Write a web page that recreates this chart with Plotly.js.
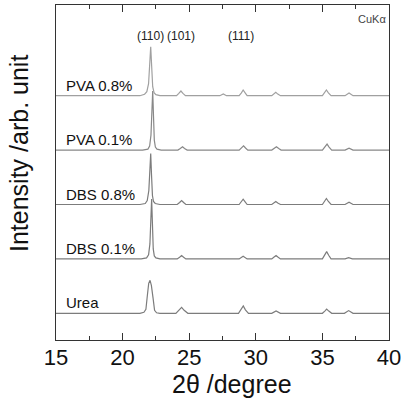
<!DOCTYPE html>
<html>
<head>
<meta charset="utf-8">
<script src="https://cdn.plot.ly/plotly-3.0.1.min.js"></script>
<style>html,body{margin:0;padding:0;background:#fff;}#chart{width:403px;height:400px;}</style>
</head>
<body>
<div id="chart"></div>
<script>
// Sample names (bottom to top)
const sampleNames = ['Urea', 'DBS 0.1%', 'DBS 0.8%', 'PVA 0.1%', 'PVA 0.8%'];

// 2θ (degree) and intensity (arb. unit, above each pattern's own baseline)
const ureaX = [15, 21.3, 21.6, 21.75, 21.86, 21.96, 22.06, 22.16, 22.29, 22.4, 22.55, 22.8, 24.0, 24.22, 24.43, 24.62, 24.9, 28.7, 28.9, 29.06, 29.22, 29.45, 31.2, 31.52, 31.85, 35.0, 35.18, 35.32, 35.48, 35.7, 36.65, 36.97, 37.3, 40];
const ureaY = [0, 0, 1, 4, 18, 30, 33, 28, 15, 3, 0.5, 0, 0, 3, 6, 3, 0, 0, 3.5, 7.3, 3.5, 0, 0, 2.3, 0, 0, 2.2, 4.3, 2.2, 0, 0, 2.7, 0, 0];

const dbs01X = [15, 21.4, 21.8, 21.95, 22.05, 22.12, 22.18, 22.24, 22.3, 22.38, 22.5, 22.8, 24.1, 24.28, 24.43, 24.58, 24.75, 28.75, 29.05, 29.35, 31.2, 31.35, 31.52, 31.68, 31.85, 35.0, 35.17, 35.32, 35.47, 35.65, 36.7, 36.97, 37.25, 40];
const dbs01Y = [0, 0, 1, 4, 15, 40, 60, 35, 10, 3, 1, 0, 0, 1.6, 3.3, 1.6, 0, 0, 2.7, 0, 0, 1.6, 3.3, 1.6, 0, 0, 3.6, 7.3, 3.6, 0, 0, 1.3, 0, 0];

const dbs08X = [15, 21.3, 21.7, 21.85, 21.97, 22.05, 22.11, 22.17, 22.24, 22.32, 22.45, 22.8, 24.1, 24.28, 24.43, 24.58, 24.75, 28.75, 28.92, 29.05, 29.2, 29.35, 31.2, 31.35, 31.5, 31.65, 31.85, 35.0, 35.17, 35.3, 35.45, 35.65, 36.7, 37.0, 37.3, 40];
const dbs08Y = [0, 0, 1, 4, 14, 35, 51, 30, 9, 3, 1, 0, 0, 2, 4, 2, 0, 0, 2.6, 5.3, 2.6, 0, 0, 1.5, 3, 1.5, 0, 0, 3, 6, 3, 0, 0, 2.3, 0, 0];

const pva01X = [15, 21.5, 21.9, 22.03, 22.13, 22.2, 22.26, 22.32, 22.38, 22.46, 22.58, 22.9, 24.15, 24.33, 24.5, 24.65, 24.85, 28.75, 28.93, 29.08, 29.23, 29.4, 31.2, 31.38, 31.55, 31.72, 31.9, 35.0, 35.2, 35.35, 35.5, 35.7, 36.7, 37.0, 37.3, 40];
const pva01Y = [0, 0, 1, 4, 15, 40, 59, 34, 10, 3, 1, 0, 0, 1.6, 3.3, 1.6, 0, 0, 2.1, 4.3, 2.1, 0, 0, 1.6, 3.3, 1.6, 0, 0, 3, 6, 3, 0, 0, 2, 0, 0];

const pva08X = [15, 21.3, 21.65, 21.82, 21.95, 22.04, 22.11, 22.18, 22.26, 22.36, 22.5, 22.8, 24.05, 24.22, 24.38, 24.53, 24.72, 27.3, 27.56, 27.8, 28.75, 28.92, 29.05, 29.2, 29.35, 31.2, 31.35, 31.5, 31.65, 31.85, 35.0, 35.17, 35.3, 35.45, 35.65, 36.7, 37.0, 37.3, 40];
const pva08Y = [0, 0, 1.5, 4, 12, 33, 49, 30, 9, 3, 1, 0, 0, 2.3, 4.7, 2.3, 0, 0, 1.7, 0, 0, 2.8, 5.7, 2.8, 0, 0, 1.6, 3.3, 1.6, 0, 0, 2.8, 5.7, 2.8, 0, 0, 2.7, 0, 0];

// Peak index labels
const hklLabels = ['(110)', '(101)', '(111)'];
const hklPos = [22.1, 24.4, 28.9];

const seriesX = [ureaX, dbs01X, dbs08X, pva01X, pva08X];
const seriesY = [ureaY, dbs01Y, dbs08Y, pva01Y, pva08Y];

// stacking (layout)
const baseOffset = 26.7, step = 54.4;
const lineColors = ['#7c7c7c', '#7c7c7c', '#7c7c7c', '#888888', '#a0a0a0'];

const traces = seriesX.map((xs, i) => ({
  x: xs,
  y: seriesY[i].map(v => v + baseOffset + i * step),
  type: 'scatter', mode: 'lines',
  line: {color: lineColors[i], width: 1.2},
  hoverinfo: 'skip', showlegend: false
}));

const fam = 'Liberation Sans, Arial, sans-serif';
const annotations = sampleNames.map((n, i) => ({
  x: 15.6, y: baseOffset + i * step + 10.5, xref: 'x', yref: 'y',
  text: n, showarrow: false, xanchor: 'left', yanchor: 'middle',
  font: {family: fam, size: 15, color: '#111'}
}));
hklLabels.forEach((t, i) => annotations.push({
  x: hklPos[i], y: 304, xref: 'x', yref: 'y', text: t, showarrow: false,
  xanchor: 'center', yanchor: 'middle', font: {family: fam, size: 12, color: '#222'}
}));
annotations.push({x: 39.92, y: 321, xref: 'x', yref: 'y', text: 'CuKα', showarrow: false,
  xanchor: 'right', yanchor: 'middle', font: {family: fam, size: 11, color: '#444'}});
// axis titles
annotations.push({x: (232 - 56) / 333, y: (340 - 384) / 335, xref: 'paper', yref: 'paper',
  text: '2θ /degree', showarrow: false, xanchor: 'center', yanchor: 'middle',
  font: {family: fam, size: 25, color: '#111'}});
annotations.push({x: (19 - 56) / 333, y: (340 - 154) / 335, xref: 'paper', yref: 'paper',
  text: 'Intensity /arb. unit', showarrow: false, textangle: -90, xanchor: 'center', yanchor: 'middle',
  font: {family: fam, size: 25, color: '#111'}});

const layout = {
  width: 403, height: 400,
  margin: {l: 56, r: 14, t: 5, b: 60, pad: 0},
  paper_bgcolor: '#fff', plot_bgcolor: '#fff',
  font: {family: fam, color: '#111'},
  xaxis: {
    range: [15, 40], tick0: 15, dtick: 5, ticks: 'inside', ticklen: 7, tickwidth: 1, tickcolor: '#333',
    minor: {ticks: 'inside', ticklen: 4, tick0: 15, dtick: 2.5, tickcolor: '#333', tickwidth: 1},
    showline: true, linecolor: '#333', linewidth: 1.2, mirror: 'ticks',
    showgrid: false, zeroline: false, ticklabelstandoff: -3,
    tickfont: {family: fam, size: 22, color: '#111'}
  },
  yaxis: {
    range: [0, 335], showticklabels: false, ticks: '',
    showline: true, linecolor: '#333', linewidth: 1.2, mirror: true,
    showgrid: false, zeroline: false
  },
  annotations: annotations
};

Plotly.newPlot('chart', traces, layout, {displayModeBar: false, staticPlot: true});
</script>
</body>
</html>
